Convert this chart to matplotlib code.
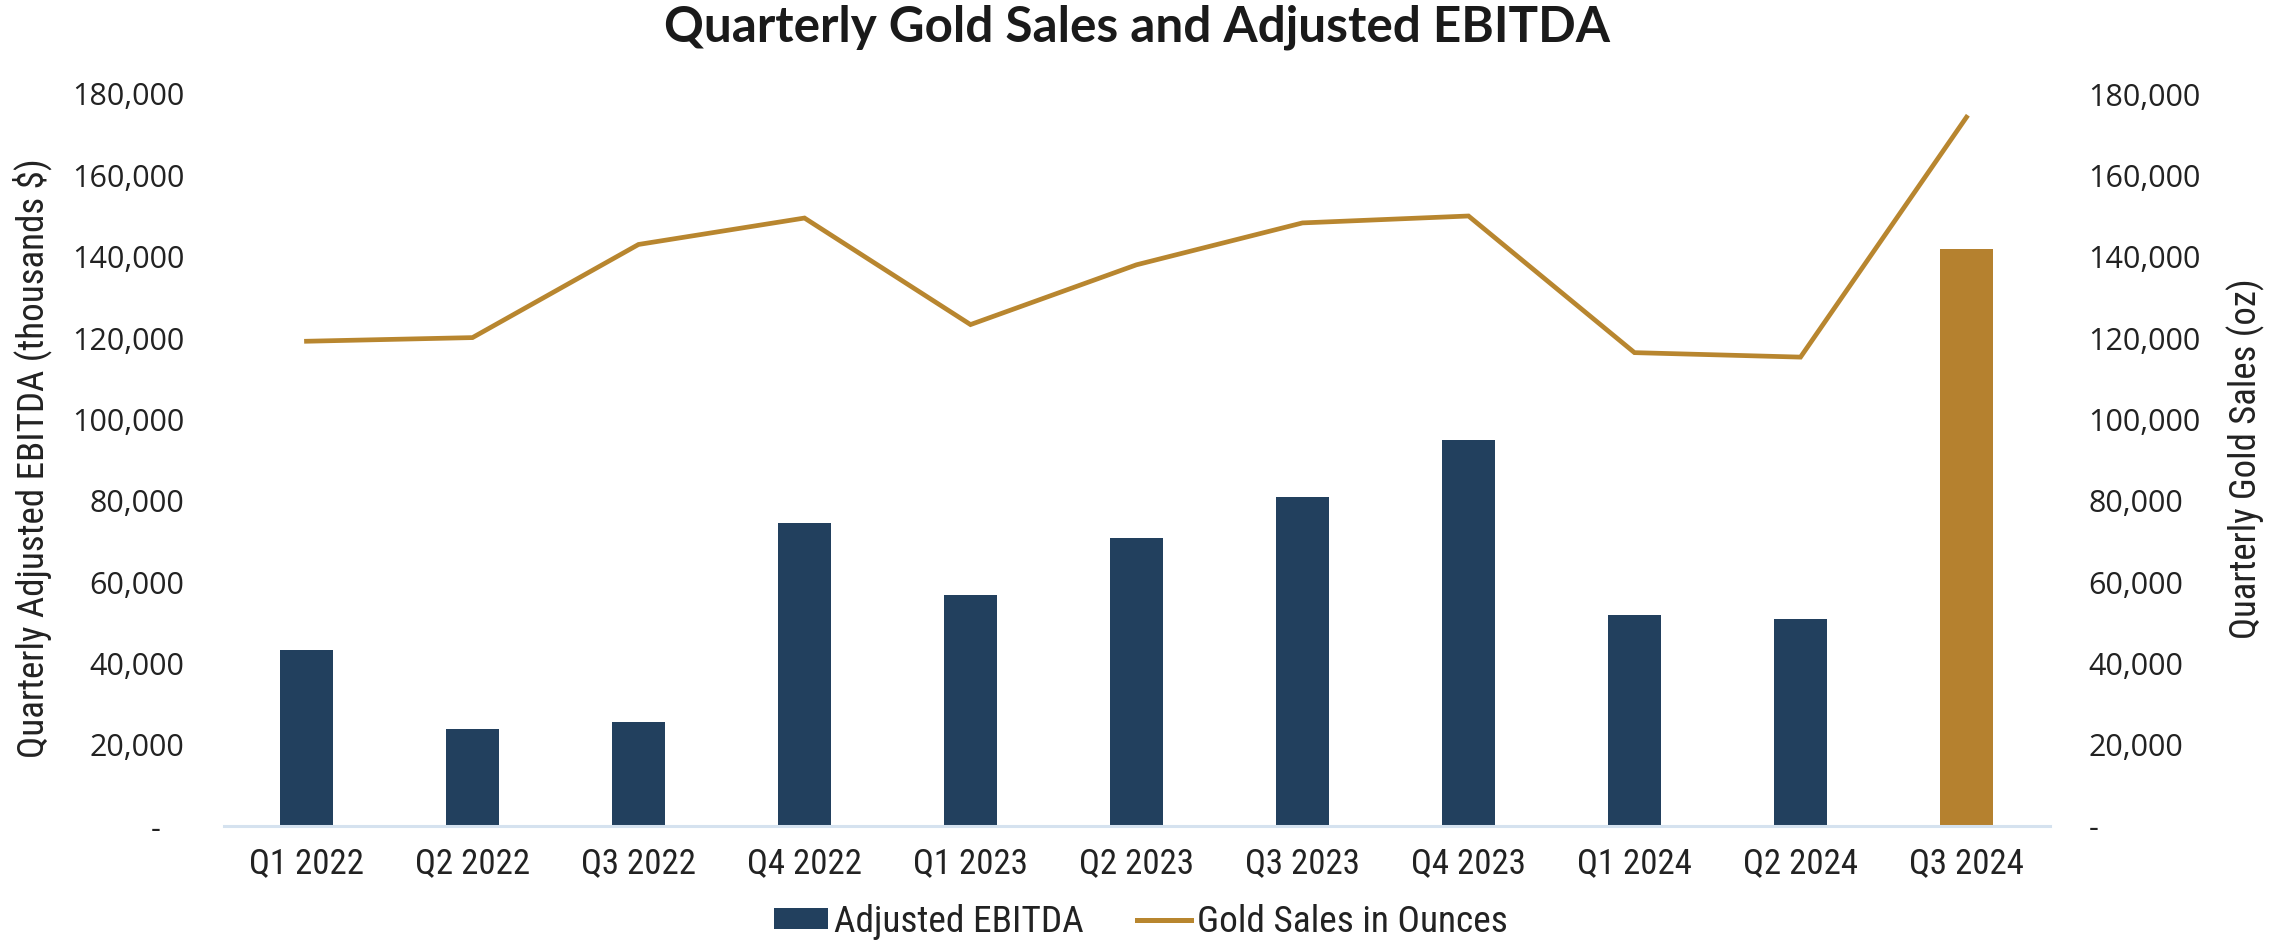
import os
import matplotlib
matplotlib.use("Agg")
import matplotlib.pyplot as plt
from matplotlib import font_manager as fm
from matplotlib.font_manager import FontProperties
from matplotlib.ticker import FuncFormatter, MultipleLocator
from matplotlib.patches import Patch
from matplotlib.lines import Line2D

quarters = ["Q1 2022", "Q2 2022", "Q3 2022", "Q4 2022", "Q1 2023", "Q2 2023",
            "Q3 2023", "Q4 2023", "Q1 2024", "Q2 2024", "Q3 2024"]
adjusted_ebitda = [43300, 23950, 25600, 74600, 56900, 70800, 80900, 95000, 51800, 50900, 141800]
gold_sales_oz = [119200, 120100, 143000, 149500, 123300, 138000, 148300, 150000, 116400, 115300, 174300]

NAVY = "#22405E"
GOLD = "#B5812F"
LINE_GOLD = "#B8862F"
AXIS_BLUE = "#D5E2EF"
TXT = "#222222"


def pick_condensed():
    cands = []
    for f in fm.fontManager.ttflist:
        base = os.path.basename(f.fname).lower()
        if not ("condensed" in base or "narrow" in base):
            continue
        if any(k in base for k in ("bold", "italic", "oblique", "light", "thin",
                                   "medium", "black", "semi", "extra")):
            continue
        cands.append(f.fname)
    prio = ["robotocondensed", "notosans-condensed", "liberationsansnarrow",
            "dejavusanscondensed", "opensans"]
    for p in prio:
        for c in cands:
            if os.path.basename(c).lower().replace("_", "").startswith(p):
                return FontProperties(fname=c)
    if cands:
        return FontProperties(fname=cands[0])
    return FontProperties(family="Roboto")


COND = pick_condensed()

W, H = 2285, 941
fig = plt.figure(figsize=(W / 100, H / 100), dpi=100)
L, R, B, T = 223.5, 2049.5, 826, 94
ax = fig.add_axes([L / W, 1 - B / H, (R - L) / W, (B - T) / H])
ax2 = ax.twinx()

x = list(range(len(quarters)))
bar_colors = [NAVY] * (len(quarters) - 1) + [GOLD]
ax.bar(x, adjusted_ebitda, width=0.315, color=bar_colors, zorder=2)
ax2.plot(x, gold_sales_oz, color=LINE_GOLD, lw=3.4, solid_joinstyle="miter", zorder=3)

for a in (ax, ax2):
    a.set_ylim(0, 180000)
    a.yaxis.set_major_locator(MultipleLocator(20000))
    for s in a.spines.values():
        s.set_visible(False)
ax.set_xlim(-0.5, len(quarters) - 0.5)
ax.spines["bottom"].set_visible(True)
ax.spines["bottom"].set_color(AXIS_BLUE)
ax.spines["bottom"].set_linewidth(2.2)

ax.yaxis.set_major_formatter(FuncFormatter(lambda v, p: "-   " if v == 0 else f"{int(v):,}"))
ax2.yaxis.set_major_formatter(FuncFormatter(lambda v, p: "-" if v == 0 else f"{int(v):,}"))

ax.set_xticks(x)
ax.set_xticklabels(quarters)
ax.tick_params(axis="x", length=0, pad=15, labelcolor=TXT)
ax.tick_params(axis="y", length=0, pad=28, labelsize=22, labelcolor=TXT)
ax2.tick_params(axis="y", length=0, pad=28, labelsize=22, labelcolor=TXT)
for lab in ax.get_yticklabels() + ax2.get_yticklabels():
    lab.set_family("Open Sans")

fig.canvas.draw()
rend = fig.canvas.get_renderer()


def fitted_size(text, target, dim, props, start=20.0):
    t = fig.text(0, 0, text, fontproperties=props.copy(), fontsize=start)
    if dim == "h":
        t.set_rotation(90)
    bb = t.get_window_extent(rend)
    cur = bb.height if dim == "h" else bb.width
    t.remove()
    return start * target / cur


xt_size = fitted_size("Q1 2022", 115, "w", COND)
for lab in ax.get_xticklabels():
    lab.set_fontproperties(COND.copy())
    lab.set_fontsize(xt_size)
    lab.set_color(TXT)

yl_size = fitted_size("Quarterly Adjusted EBITDA (thousands $)", 600, "h", COND)
yr_size = fitted_size("Quarterly Gold Sales (oz)", 360, "h", COND)
fig.text(32 / W, 1 - 458 / H, "Quarterly Adjusted EBITDA (thousands $)", rotation=90,
         ha="center", va="center", fontproperties=COND.copy(), fontsize=yl_size, color=TXT)
fig.text(2246 / W, 1 - 459 / H, "Quarterly Gold Sales (oz)", rotation=90,
         ha="center", va="center", fontproperties=COND.copy(), fontsize=yr_size, color=TXT)

TITLE = FontProperties(family="Lato", weight="bold")
ti_size = fitted_size("Quarterly Gold Sales and Adjusted EBITDA", 944, "w", TITLE)
fig.text(1137 / W, 1 - 27 / H, "Quarterly Gold Sales and Adjusted EBITDA",
         ha="center", va="center", fontproperties=TITLE, fontsize=ti_size, color="#1a1a1a")

lg_size = fitted_size("Adjusted EBITDA", 250, "w", COND)
fs_px = lg_size * 100 / 72
handles = [Patch(facecolor=NAVY, edgecolor="none"),
           Line2D([0], [0], color=LINE_GOLD, lw=3.6)]
lp = COND.copy()
lp.set_size(lg_size)
leg = fig.legend(handles, ["Adjusted EBITDA", "Gold Sales in Ounces"], loc="center",
                 bbox_to_anchor=(1141 / W, 1 - 922 / H), ncol=2, frameon=False, prop=lp,
                 handlelength=54 / fs_px, handletextpad=6 / fs_px, columnspacing=53 / fs_px,
                 handleheight=18 / fs_px, borderpad=0, borderaxespad=0)
for t in leg.get_texts():
    t.set_color(TXT)

fig.savefig("out.png", dpi=100, facecolor="white")
